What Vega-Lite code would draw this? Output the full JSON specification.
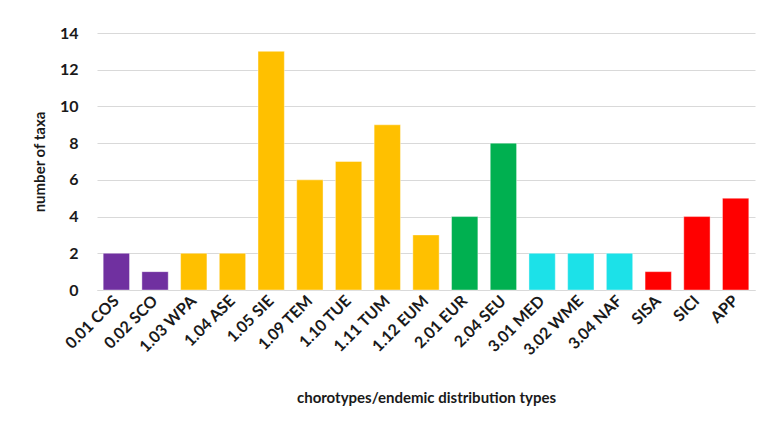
{
  "$schema": "https://vega.github.io/schema/vega-lite/v6.json",
  "width": 658,
  "height": 257,
  "autosize": {"type": "none"},
  "padding": {"left": 97, "top": 33, "right": 6, "bottom": 136},
  "background": "white",
  "data": {
    "values": [
      {"type": "0.01 COS", "taxa": 2, "group": "cosmopolitan"},
      {"type": "0.02 SCO", "taxa": 1, "group": "cosmopolitan"},
      {"type": "1.03 WPA", "taxa": 2, "group": "boreal"},
      {"type": "1.04 ASE", "taxa": 2, "group": "boreal"},
      {"type": "1.05 SIE", "taxa": 13, "group": "boreal"},
      {"type": "1.09 TEM", "taxa": 6, "group": "boreal"},
      {"type": "1.10 TUE", "taxa": 7, "group": "boreal"},
      {"type": "1.11 TUM", "taxa": 9, "group": "boreal"},
      {"type": "1.12 EUM", "taxa": 3, "group": "boreal"},
      {"type": "2.01 EUR", "taxa": 4, "group": "european"},
      {"type": "2.04 SEU", "taxa": 8, "group": "european"},
      {"type": "3.01 MED", "taxa": 2, "group": "mediterranean"},
      {"type": "3.02 WME", "taxa": 2, "group": "mediterranean"},
      {"type": "3.04 NAF", "taxa": 2, "group": "mediterranean"},
      {"type": "SISA", "taxa": 1, "group": "endemic"},
      {"type": "SICI", "taxa": 4, "group": "endemic"},
      {"type": "APP", "taxa": 5, "group": "endemic"}
    ]
  },
  "mark": {"type": "bar", "stroke": "white", "strokeOpacity": 0.4, "strokeWidth": 1},
  "encoding": {
    "x": {
      "field": "type",
      "type": "nominal",
      "sort": null,
      "scale": {"paddingInner": 0.32, "paddingOuter": 0.16},
      "axis": {
        "title": "chorotypes/endemic distribution types",
        "labelAngle": -45,
        "labelAlign": "right",
        "labelBaseline": "middle",
        "labelPadding": 8,
        "titlePadding": 33
      }
    },
    "y": {
      "field": "taxa",
      "type": "quantitative",
      "scale": {"domain": [0, 14]},
      "axis": {
        "title": "number of taxa",
        "values": [0, 2, 4, 6, 8, 10, 12, 14],
        "labelPadding": 19,
        "titlePadding": 12
      }
    },
    "color": {
      "field": "group",
      "type": "nominal",
      "scale": {
        "domain": ["cosmopolitan", "boreal", "european", "mediterranean", "endemic"],
        "range": ["#7030A0", "#FFC000", "#00B050", "#1CE1E8", "#FF0000"]
      },
      "legend": null
    }
  },
  "config": {
    "font": "Lato",
    "view": {"stroke": null},
    "axis": {
      "labelFont": "Lato",
      "titleFont": "Lato",
      "labelFontWeight": "bold",
      "titleFontWeight": "bold",
      "labelFontSize": 16,
      "titleFontSize": 15,
      "labelColor": "#1a1a1a",
      "titleColor": "#1a1a1a",
      "ticks": false,
      "gridColor": "#D9D9D9",
      "domainColor": "#D9D9D9"
    },
    "axisX": {"grid": false},
    "axisY": {"domain": false, "grid": true}
  }
}
